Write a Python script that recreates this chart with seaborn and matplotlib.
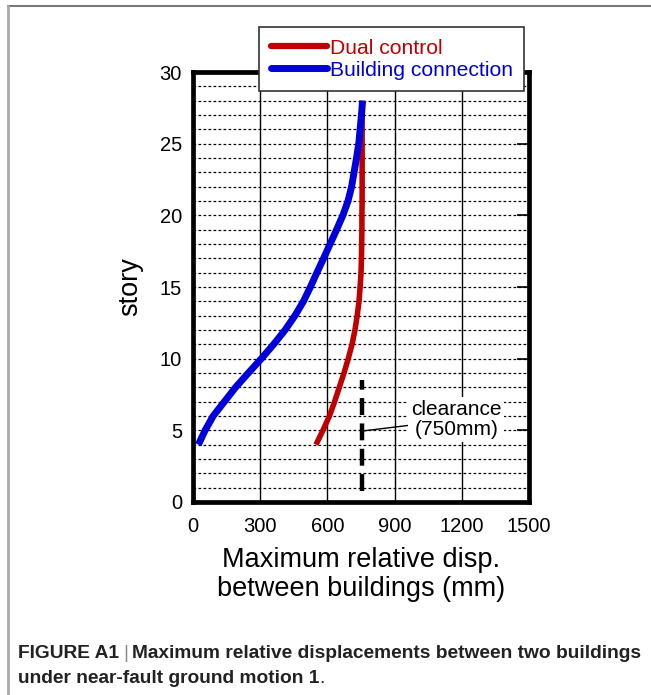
import numpy as np
import pandas as pd
import matplotlib
matplotlib.use('Agg')
import matplotlib.pyplot as plt
from matplotlib.lines import Line2D
import seaborn as sns

# story levels and max relative displacement (mm)
stories = [4, 5, 6, 7, 8, 9, 10, 11, 12, 13, 14, 15, 16, 17, 18, 19, 20,
           21, 22, 23, 24, 25, 26, 27, 28]
dual_control = [549, 580, 609, 632, 653, 674, 693, 710, 723, 733, 741, 746, 750,
                752, 753, 754, 754, 755, 755, 755, 755, 755, 755, 755, 755]
building_conn = [24, 54, 90, 140, 190, 247, 305, 360, 411, 455, 493, 524, 553,
                 583, 612, 641, 669, 692, 708, 719, 730, 740, 746, 752, 757]
clearance = 755
clearance_span = [0.8, 8.5]
x_ticks = [0, 300, 600, 900, 1200, 1500]
y_ticks = [0, 5, 10, 15, 20, 25, 30]

df = pd.DataFrame({
    'story': stories * 2,
    'disp': dual_control + building_conn,
    'case': ['Dual control'] * len(stories) + ['Building connection'] * len(stories),
})

sns.set_theme(style='white')
plt.rcParams['font.family'] = ['Liberation Sans', 'DejaVu Sans']

fig = plt.figure(figsize=(6.51, 6.95), dpi=100)
ax = fig.add_axes([0.2965, 0.2777, 0.8126 - 0.2965, 0.8964 - 0.2777])

# grid
for yy in range(1, 30):
    ax.axhline(yy, color='black', lw=0.9, ls=(0, (2.2, 1.8)), zorder=1)
for xx in x_ticks[1:-1]:
    ax.axvline(xx, color='black', lw=1.0, zorder=1)

sns.lineplot(data=df, x='disp', y='story', hue='case', orient='y', sort=False,
             palette={'Dual control': '#c00000', 'Building connection': '#0000dd'},
             linewidth=4.2, ax=ax, legend=False, zorder=3)
for ln, lw in zip(ax.lines[-2:], [4.0, 5.0]):
    ln.set_linewidth(lw)
    ln.set_solid_capstyle('butt')

ax.plot([clearance, clearance], clearance_span, color='black', lw=3.2,
        ls=(0, (3.8, 1.9)), zorder=2)

ax.annotate('clearance\n(750mm)', xy=(clearance, 4.95), xytext=(1175, 5.75),
            ha='center', va='center', fontsize=15, linespacing=1.1, color='black',
            bbox=dict(boxstyle='square,pad=0.12', fc='white', ec='none'),
            arrowprops=dict(arrowstyle='-', color='black', lw=1.0,
                            shrinkA=0, shrinkB=0), zorder=4)

ax.set_xlim(0, 1500)
ax.set_ylim(0, 30)
ax.set_xticks(x_ticks)
ax.set_yticks(y_ticks)
ax.tick_params(direction='in', width=1.2, labelsize=14.5, colors='black',
               top=True, right=True)
ax.tick_params(axis='y', length=9, pad=8)
ax.tick_params(axis='x', length=0, pad=11)
for sp in ax.spines.values():
    sp.set_linewidth(3.4)
    sp.set_color('black')

ax.set_ylabel('story', fontsize=19.5, labelpad=12, color='black')
ax.set_xlabel('Maximum relative disp.\nbetween buildings (mm)', fontsize=19.5,
              linespacing=1.15, labelpad=8, color='black')

handles = [Line2D([], [], color='#c00000', lw=4.5),
           Line2D([], [], color='#0000dd', lw=5)]
leg = fig.legend(handles, ['Dual control', 'Building connection'],
                 loc='upper left', bbox_to_anchor=(259 / 651, 1 - 27 / 695),
                 fontsize=15.2, frameon=True, fancybox=False, framealpha=1,
                 edgecolor='#333333', handlelength=2.65, handletextpad=0.15,
                 labelspacing=0.15, borderpad=0.55, borderaxespad=0)
leg.get_frame().set_linewidth(1.2)
leg.set_zorder(10)
for t, c in zip(leg.get_texts(), ['#c00000', '#0000dd']):
    t.set_color(c)

# page border
fig.add_artist(Line2D([8 / 651, 1], [1 - 6 / 695, 1 - 6 / 695], color='#777777', lw=1.5))
fig.add_artist(Line2D([8 / 651, 8 / 651], [0, 1 - 6 / 695], color='#aaaaaa', lw=2))

# caption
fig.canvas.draw()
r = fig.canvas.get_renderer()
inv = fig.transFigure.inverted()


def put(x, y, s, color='#222222', **kw):
    t = fig.text(x, y, s, fontsize=13.8, va='baseline', color=color, **kw)
    bb = t.get_window_extent(renderer=r)
    return inv.transform((bb.x1, bb.y0))[0]


y1 = 1 - 658 / 695
y2 = 1 - 683 / 695
x = put(18 / 651, y1, 'FIGURE A1', fontweight='bold')
x = put(x + 0.006, y1, '|', color='#888888')
put(x + 0.006, y1, 'Maximum relative displacements between two buildings', fontweight='bold')
x = put(18 / 651, y2, 'under near-fault ground motion 1', fontweight='bold')
put(x, y2, '.')

fig.savefig('out.png', dpi=100)
